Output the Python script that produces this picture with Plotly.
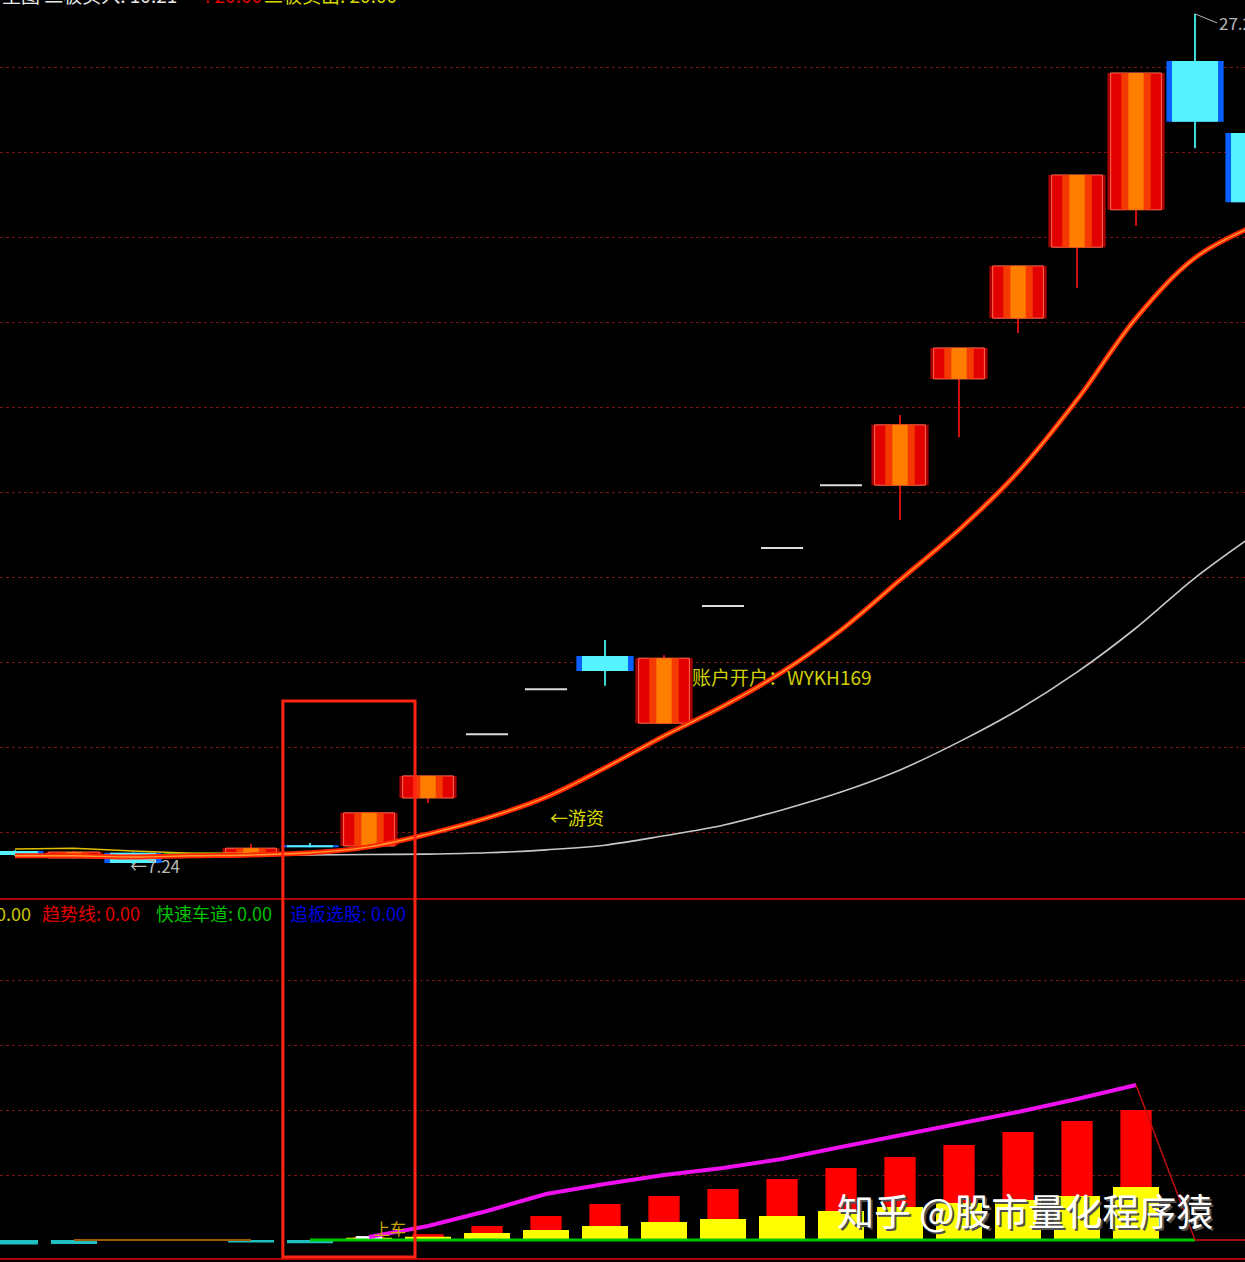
"""通达信风格的主图 + 副图 (二板 / 趋势线) 复刻。"""
import plotly.graph_objects as go

# ---- 主图 K 线数据 ----
INDEX = list(range(22))
KIND = ["blue", "red", "blue", "green", "red", "blue", "red", "red", "flat", "flat", "blue",
        "red", "flat", "flat", "flat", "red", "red", "red", "red", "red", "blue", "blue"]
OPEN = [7.55, 7.39, 7.51, 7.39, 7.44, 7.69, 7.67, 8.80, 10.30, 11.36, 12.14,
        10.56, 13.32, 14.68, 16.16, 16.16, 18.66, 20.09, 21.76, 22.64, 26.14, 24.45]
HIGH = [7.57, 7.55, 7.52, 7.51, 7.72, 7.74, 8.45, 9.32, 10.30, 11.36, 12.52,
        12.16, 13.32, 14.68, 16.16, 17.81, 19.40, 21.32, 23.46, 25.86, 27.25, 24.60]
LOW = [7.44, 7.37, 7.24, 7.38, 7.42, 7.64, 7.64, 8.68, 10.30, 11.36, 11.44,
       10.56, 13.32, 14.68, 16.16, 15.34, 17.29, 19.74, 20.80, 22.26, 24.09, 22.60]
CLOSE = [7.46, 7.53, 7.27, 7.51, 7.62, 7.64, 8.45, 9.32, 10.30, 11.36, 11.79,
         12.09, 13.32, 14.68, 16.16, 17.58, 19.39, 21.32, 23.46, 25.86, 24.71, 22.82]

TREND_LINE = [7.44, 7.44, 7.41, 7.44, 7.46, 7.51, 7.65, 7.95, 8.33, 8.82, 9.51,
              10.26, 10.96, 11.76, 12.75, 13.93, 15.11, 16.47, 18.17, 20.09, 21.51, 22.26]
SLOW_LINE = [7.46, 7.46, 7.46, 7.46, 7.46, 7.46, 7.47, 7.48, 7.51, 7.58, 7.69,
             7.91, 8.16, 8.52, 8.94, 9.46, 10.12, 10.87, 11.76, 12.80, 13.98, 14.99]
SHORT_LINE = [7.60, 7.62, 7.55, 7.50, 7.50, 7.47, None, None, None, None, None,
              None, None, None, None, None, None, None, None, None, None, None]

PRICE_GRID = [8, 10, 12, 14, 16, 18, 20, 22, 24, 26]

# ---- 副图数据 ----
RED_BAR = [None, None, None, None, None, None, 0.45, 0.9, 2.15, 3.69, 5.54,
           6.77, 7.85, 9.38, 11.08, 12.77, 14.62, 16.62, 18.31, 20.0, None, None]
YELLOW_BAR = [None, None, None, None, None, None, 0.35, 0.5, 1.08, 1.54, 2.15,
              2.77, 3.23, 3.69, 4.46, 5.08, 5.69, 6.15, 6.77, 8.15, None, None]
WHITE_BAR = [None, None, None, None, None, None, 0.6, None, None, None, None,
             None, None, None, None, None, None, None, None, None, None, None]
CYAN_BAR = [-0.7, -0.6, None, None, -0.4, -0.5, None, None, None, None, None,
            None, None, None, None, None, None, None, None, None, None, None]
MAGENTA_LINE = [None, None, None, None, None, None, 0.46, 2.15, 4.46, 7.08, 8.62,
                10.0, 11.08, 12.46, 14.31, 16.15, 17.85, 19.69, 21.69, 23.85, 0.0, None]
BROWN_BASE = [None, 0, 0, 0, 0, None, None, None, None, None, None,
              None, None, None, None, None, None, None, None, None, None, None]
GREEN_BASE = [None, None, None, None, None, 0, 0, 0, 0, 0, 0,
              0, 0, 0, 0, 0, 0, 0, 0, 0, 0, None]
TAIL_BASE = [None, None, None, None, None, None, None, None, None, None, None,
             None, None, None, None, None, None, None, None, None, 0, 0]
SUB_GRID = [10, 20, 30, 40]

# ---- 版面 ----
W, H = 1245, 1262
X_RANGE = [-0.254, 20.847]
PRICE_RANGE = [6.4235, 27.5765]
SUB_RANGE = [-2.769, 52.31]
TOP_DOMAIN = [(H - 899) / H, 1]
SUB_DOMAIN = [(H - 1258) / H, (H - 900) / H]

CJK = "Noto Sans CJK SC"
GRID_COLOR = "#7a1414"
FRAME_RED = "#b00000"

BODY_LAYERS = {
    "red": [("#a80000", 0.97, None), ("#e20000", 0.86, "#ff6a50"),
            ("#f43a00", 0.5, None), ("#ff7e00", 0.26, None)],
    "blue": [("#0a60ff", 0.97, None), ("#55f2ff", 0.78, None)],
    "green": [("#009a00", 0.97, None), ("#22dd22", 0.85, None)],
}
WICK_COLORS = {"red": "#cc1010", "blue": "#3fd6d6", "green": "#00b000"}


def add_candles(fig):
    for kind in BODY_LAYERS:
        ks = [k for k in INDEX if KIND[k] == kind]
        fig.add_trace(go.Bar(
            x=ks, base=[LOW[k] for k in ks], y=[HIGH[k] - LOW[k] for k in ks],
            width=0.035, marker=dict(color=WICK_COLORS[kind], line=dict(width=0)),
            xaxis="x", yaxis="y", hoverinfo="skip"))
    for kind, layers in BODY_LAYERS.items():
        ks = [k for k in INDEX if KIND[k] == kind]
        base = [min(OPEN[k], CLOSE[k]) for k in ks]
        size = [abs(CLOSE[k] - OPEN[k]) for k in ks]
        for color, width, edge in layers:
            fig.add_trace(go.Bar(
                x=ks, base=base, y=size, width=width,
                marker=dict(color=color, line=dict(color=edge or color, width=1 if edge else 0)),
                xaxis="x", yaxis="y", hoverinfo="skip"))
    # 一字板:只画一条横线
    flat = [k for k in INDEX if KIND[k] == "flat"]
    fig.add_trace(go.Scatter(
        x=flat, y=[CLOSE[k] for k in flat], mode="markers",
        marker=dict(symbol="line-ew", size=30, line=dict(color="#dcdcdc", width=2)),
        xaxis="x", yaxis="y", hoverinfo="skip"))


def add_lines(fig):
    fig.add_trace(go.Scatter(x=INDEX, y=SHORT_LINE, mode="lines",
                             line=dict(color="#e0c000", width=1.5), xaxis="x", yaxis="y"))
    fig.add_trace(go.Scatter(x=INDEX, y=SLOW_LINE, mode="lines",
                             line=dict(color="#c8c8c8", width=1.6, shape="spline"), xaxis="x", yaxis="y"))
    fig.add_trace(go.Scatter(x=INDEX, y=TREND_LINE, mode="lines",
                             line=dict(color="#ff2400", width=5, shape="spline"), xaxis="x", yaxis="y"))
    fig.add_trace(go.Scatter(x=INDEX, y=TREND_LINE, mode="lines",
                             line=dict(color="#ff9a30", width=1.4, shape="spline"), xaxis="x", yaxis="y"))


def add_sub_chart(fig):
    fig.add_trace(go.Bar(x=INDEX, y=CYAN_BAR, width=0.78, marker=dict(color="#1fbfbf", line=dict(width=0)),
                         xaxis="x2", yaxis="y2", hoverinfo="skip"))
    fig.add_trace(go.Bar(x=INDEX, y=RED_BAR, width=0.53, marker=dict(color="#ff0000", line=dict(width=0)),
                         xaxis="x2", yaxis="y2", hoverinfo="skip"))
    fig.add_trace(go.Bar(x=INDEX, y=YELLOW_BAR, width=0.78, marker=dict(color="#ffff00", line=dict(width=0)),
                         xaxis="x2", yaxis="y2", hoverinfo="skip"))
    fig.add_trace(go.Bar(x=INDEX, y=WHITE_BAR, width=0.45, marker=dict(color="#ffffff", line=dict(width=0)),
                         xaxis="x2", yaxis="y2", hoverinfo="skip"))
    fig.add_trace(go.Scatter(x=INDEX, y=BROWN_BASE, mode="lines", line=dict(color="#a05a00", width=2),
                             xaxis="x2", yaxis="y2"))
    fig.add_trace(go.Scatter(x=INDEX, y=GREEN_BASE, mode="lines", line=dict(color="#00c800", width=3),
                             xaxis="x2", yaxis="y2"))
    fig.add_trace(go.Scatter(x=INDEX, y=TAIL_BASE, mode="lines", line=dict(color="#a01010", width=2),
                             xaxis="x2", yaxis="y2"))
    fig.add_trace(go.Scatter(x=INDEX[:20], y=MAGENTA_LINE[:20], mode="lines",
                             line=dict(color="#ee10ee", width=4), xaxis="x2", yaxis="y2"))
    fig.add_trace(go.Scatter(x=INDEX[19:21], y=MAGENTA_LINE[19:21], mode="lines",
                             line=dict(color="#c01010", width=1.5), xaxis="x2", yaxis="y2"))


def text(x, y, s, color, size, xref="paper", yref="paper", **kw):
    return dict(x=x, y=y, xref=xref, yref=yref, text=s, showarrow=False,
                font=dict(family=CJK, size=size, color=color), **kw)


def annotations():
    top = 1.0
    sub_y = (H - 913) / H
    return [
        # 顶部标题行(截图里只剩下半截)
        text(0, top, "主图 二板买入: 10.21", "#e8e8e8", 19, xanchor="left", yanchor="bottom", yshift=-10),
        text(203 / W, top, ": 20.00", "#e00000", 19, xanchor="left", yanchor="bottom", yshift=-10),
        text(262 / W, top, "二板卖出: 20.00", "#d8d800", 19, xanchor="left", yanchor="bottom", yshift=-10),
        # 副图指标行
        text(-6 / W, sub_y, "0.00", "#c8c800", 18, xanchor="left", yanchor="middle"),
        text(40 / W, sub_y, "趋势线: 0.00", "#e00000", 18, xanchor="left", yanchor="middle"),
        text(154 / W, sub_y, "快速车道: 0.00", "#00c000", 18, xanchor="left", yanchor="middle"),
        text(288 / W, sub_y, "追板选股: 0.00", "#0000e0", 18, xanchor="left", yanchor="middle"),
        text(INDEX[2], LOW[2], "←7.24", "#b8b8b8", 17, xref="x", yref="y",
             xanchor="left", yanchor="middle", xshift=-5, yshift=-1),
        text(9.03, 8.35, "←游资", "#d8d800", 18, xref="x", yref="y", xanchor="left", yanchor="middle"),
        text(11.44, 11.67, "账户开户：WYKH169", "#d0d000", 19, xref="x", yref="y",
             xanchor="left", yanchor="middle"),
        text(6.05, 1.9, "上车", "#c8a800", 16, xref="x2", yref="y2", xanchor="left", yanchor="middle"),
        # 水印
        text(837 / W, (H - 1212) / H, "知乎 @股市量化程序猿", "#505050", 37, xanchor="left", yanchor="middle"),
        text(835 / W, (H - 1210) / H, "知乎 @股市量化程序猿", "#ffffff", 37, xanchor="left", yanchor="middle"),
        dict(x=INDEX[20], y=HIGH[20], xref="x", yref="y", text="27.25", showarrow=True,
             arrowhead=0, arrowwidth=1, arrowcolor="#b8b8b8", ax=22, ay=9, xanchor="left",
             font=dict(family=CJK, size=17, color="#b8b8b8")),
    ]


def shapes():
    return [
        dict(type="line", xref="paper", yref="paper", x0=0, x1=1,
             y0=(H - 899) / H, y1=(H - 899) / H, line=dict(color=FRAME_RED, width=2)),
        dict(type="line", xref="paper", yref="paper", x0=0, x1=1,
             y0=(H - 1259) / H, y1=(H - 1259) / H, line=dict(color=FRAME_RED, width=2)),
        # 红框标注
        dict(type="rect", xref="x", yref="paper", x0=4.54, x1=6.78,
             y0=(H - 1257) / H, y1=(H - 701) / H, line=dict(color="#ff2414", width=3)),
    ]


fig = go.Figure()
add_candles(fig)
add_lines(fig)
add_sub_chart(fig)

axis_x = dict(showgrid=False, zeroline=False, showticklabels=False, ticks="", showline=False)
axis_y = dict(showticklabels=False, ticks="", zeroline=False, showline=False,
              gridcolor=GRID_COLOR, griddash="dot", gridwidth=1)

fig.update_layout(
    width=W, height=H, margin=dict(l=0, r=0, t=0, b=0),
    paper_bgcolor="black", plot_bgcolor="black", showlegend=False,
    barmode="overlay",
    xaxis=dict(domain=[0, 1], range=X_RANGE, anchor="y", **axis_x),
    yaxis=dict(domain=TOP_DOMAIN, range=PRICE_RANGE, tickvals=PRICE_GRID, anchor="x", **axis_y),
    xaxis2=dict(domain=[0, 1], range=X_RANGE, matches="x", anchor="y2", **axis_x),
    yaxis2=dict(domain=SUB_DOMAIN, range=SUB_RANGE, tickvals=SUB_GRID, anchor="x2", **axis_y),
    annotations=annotations(),
    shapes=shapes(),
)

fig.write_html(
    "out.html",
    config={"displayModeBar": False},
    post_script="document.body.style.margin='0';document.body.style.background='black';",
)
